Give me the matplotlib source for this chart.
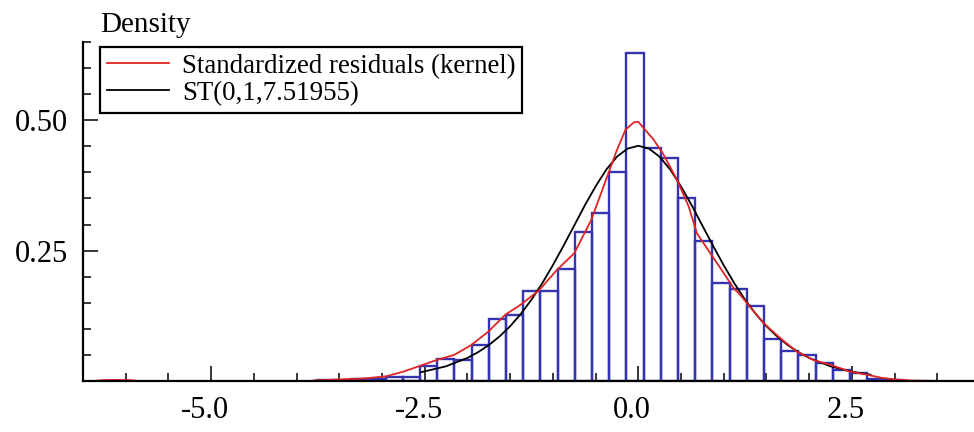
import numpy as np
import matplotlib
matplotlib.use("Agg")
import matplotlib.pyplot as plt
from matplotlib.ticker import FixedLocator
from matplotlib.lines import Line2D
import matplotlib.transforms as mtransforms

# ---------------- data ----------------
bin_start = -3.762          # left edge of first histogram bin
bin_width = 0.2013
hist_density = [0.002, 0.002, 0.003, 0.004, 0.008,
                0.008, 0.029, 0.042, 0.040, 0.069, 0.119, 0.127, 0.173, 0.173,
                0.214, 0.285, 0.323, 0.401, 0.628, 0.447, 0.427, 0.351, 0.269,
                0.188, 0.177, 0.143, 0.080, 0.058, 0.050, 0.034, 0.021, 0.016,
                0.004, 0.002]

kernel_x = [-6.33, -6.2, -6.1, -6.0, -5.89, np.nan,
            -3.8, -3.5, -3.2, -2.95, -2.75, -2.59, -2.365, -2.155, -1.955,
            -1.753, -1.557, -1.38, -1.167, -0.952, -0.749, -0.55, -0.348,
            -0.25, -0.149, -0.05, 0.0, 0.062, 0.179, 0.296, 0.453, 0.589,
            0.687, 0.843, 1.0, 1.116, 1.194, 1.273, 1.467, 1.663, 1.858,
            2.053, 2.248, 2.482, 2.678, 2.85, 3.01, 3.2, 3.44]
kernel_y = [0.001, 0.002, 0.002, 0.002, 0.001, np.nan,
            0.001, 0.003, 0.005, 0.009, 0.018, 0.027, 0.040, 0.050, 0.069,
            0.095, 0.127, 0.146, 0.173, 0.213, 0.245, 0.309, 0.399,
            0.443, 0.482, 0.496, 0.497, 0.485, 0.463, 0.434, 0.386, 0.335,
            0.283, 0.245, 0.207, 0.178, 0.165, 0.149, 0.111, 0.082, 0.056,
            0.040, 0.031, 0.018, 0.012, 0.006, 0.003, 0.001, 0.0005]

st_x = [-2.55, -2.25, -2.0, -1.875, -1.75, -1.625, -1.5, -1.375, -1.25,
        -1.125, -1.0, -0.875, -0.75, -0.625, -0.5, -0.375, -0.25, -0.125,
        0.0, 0.125, 0.25, 0.375, 0.5, 0.625, 0.75, 0.875, 1.0, 1.125,
        1.25, 1.375, 1.5, 1.625, 1.75, 1.875, 2.0, 2.25, 2.5, 2.72]
st_y = [0.0166, 0.0282, 0.0442, 0.0553, 0.0688, 0.0853, 0.105, 0.1286, 0.156,
        0.1872, 0.222, 0.2593, 0.298, 0.337, 0.373, 0.4052, 0.430, 0.4456,
        0.451, 0.4456, 0.430, 0.4052, 0.373, 0.337, 0.298, 0.2593, 0.222, 0.1872,
        0.156, 0.1286, 0.105, 0.0853, 0.0688, 0.0553, 0.0442, 0.0282, 0.0179, 0.0120]

x_major = [-5.0, -2.5, 0.0, 2.5]
x_labels = ["-5.0", "-2.5", "0.0", "2.5"]
y_major = [0.25, 0.50]
y_labels = ["0.25", "0.50"]
legend_labels = ["Standardized residuals (kernel)", "ST(0,1,7.51955)"]
y_title = "Density"

# ---------------- plot ----------------
SERIF = "Liberation Serif"
plt.rcParams["font.family"] = [SERIF, "DejaVu Serif"]

fig = plt.figure(figsize=(9.74, 4.32), dpi=100)
W, H = 974, 432
ax = fig.add_axes([83 / W, (H - 381) / H, (W - 83) / W, (381 - 42) / H])

blue = "#3434b2"
red = "#e02424"

left_edges = bin_start + bin_width * np.arange(len(hist_density))
ax.bar(left_edges, hist_density, width=bin_width, align="edge", fill=False,
       edgecolor=blue, linewidth=1.7, zorder=2)
ax.plot(st_x, st_y, color="black", linewidth=1.3, zorder=3)
ax.plot(kernel_x, kernel_y, color=red, linewidth=1.3, zorder=4)

ax.set_xlim(-6.50, 3.93)
ax.set_ylim(0, 0.65)

for s in ("top", "right"):
    ax.spines[s].set_visible(False)
for s in ("left", "bottom"):
    ax.spines[s].set_linewidth(1.6)
    ax.spines[s].set_zorder(5)

ax.xaxis.set_major_locator(FixedLocator(x_major))
ax.set_xticklabels(x_labels)
ax.xaxis.set_minor_locator(FixedLocator([v for v in np.arange(-6.0, 3.6, 0.5)
                                         if all(abs(v - m) > 1e-6 for m in x_major)]))
ax.yaxis.set_major_locator(FixedLocator(y_major))
ax.set_yticklabels(y_labels)
ax.yaxis.set_minor_locator(FixedLocator([v for v in np.arange(0.05, 0.651, 0.05)
                                         if all(abs(v - m) > 1e-6 for m in y_major)]))

ax.tick_params(which="both", direction="in", width=1.1, color="black")
ax.tick_params(which="major", length=10.8, labelsize=22)
ax.tick_params(which="minor", length=5.8)
ax.tick_params(axis="x", which="major", pad=11)
ax.tick_params(axis="y", which="major", pad=10.5)

offset = mtransforms.ScaledTranslation(-6 / 100, 0, fig.dpi_scale_trans)
for lab in ax.get_xticklabels():
    lab.set_transform(lab.get_transform() + offset)

fig.text(100 / W, 1 - 32 / H, y_title, fontsize=21, va="baseline", ha="left")

handles = [Line2D([], [], color=red, linewidth=1.3),
           Line2D([], [], color="black", linewidth=1.3)]
leg = ax.legend(handles, legend_labels, loc="upper left",
                bbox_to_anchor=((100 - 83) / (W - 83), (381 - 47) / (381 - 42)),
                borderaxespad=0, fancybox=False, framealpha=1, edgecolor="black",
                prop={"family": SERIF, "size": 19.4}, handlelength=2.3,
                handletextpad=0.5, labelspacing=0.08, borderpad=0.25)
leg.get_frame().set_linewidth(1.6)
leg.set_zorder(6)

fig.savefig("out.png", dpi=100)
